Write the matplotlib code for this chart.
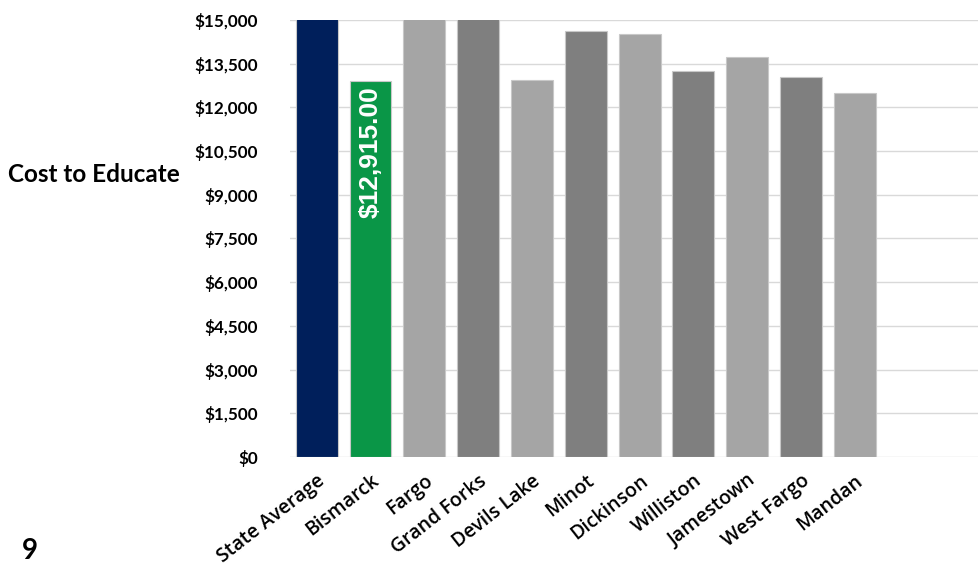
import matplotlib.pyplot as plt

# Cost to educate per district (values above $15,000 are cut off in the chart)
districts = ["State Average", "Bismarck", "Fargo", "Grand Forks", "Devils Lake",
             "Minot", "Dickinson", "Williston", "Jamestown", "West Fargo", "Mandan"]
costs = [15600, 12915, 16200, 16000, 12930, 14620, 14520, 13260, 13740, 13040, 12480]
colors = ["#001F5B", "#0A9647", "#A5A5A5", "#7F7F7F", "#A5A5A5", "#7F7F7F",
          "#A5A5A5", "#7F7F7F", "#A5A5A5", "#7F7F7F", "#A5A5A5"]
yticks = list(range(0, 15001, 1500))

fig = plt.figure(figsize=(9.79, 5.68), dpi=100)
ax = fig.add_axes([0.296, 0.1954, 0.73, 0.7695])

x = range(len(districts))
bars = ax.bar(x, costs, width=0.78, color=colors, edgecolor="#C8C8C8",
              linewidth=0.8, zorder=3)

ax.set_ylim(0, 15000)
ax.set_xlim(-0.5, 12.78)
ax.set_yticks(yticks)
ax.set_yticklabels([f"${v:,}" for v in yticks], fontsize=12.3,
                   fontweight="bold", family="Lato")
ax.set_xticks(list(x))
ax.set_xticklabels(districts, rotation=38, ha="right", rotation_mode="anchor",
                   fontsize=14, family="Open Sans", fontweight="semibold")
ax.tick_params(axis="both", length=0)
ax.tick_params(axis="y", pad=23)
ax.tick_params(axis="x", pad=10)
ax.grid(axis="y", color="#D9D9D9", linewidth=1, zorder=0)
for s in ax.spines.values():
    s.set_visible(False)

# Value label inside the Bismarck bar
ax.text(1, costs[1] - 200, f"${costs[1]:,.2f}", rotation=90, ha="center",
        va="top", color="white", fontsize=19, fontweight="bold",
        family="Liberation Sans", zorder=4)

fig.text(0.008, 0.692, "Cost to Educate", fontsize=17.5, fontweight="bold",
         family="Lato", va="center", ha="left")
fig.text(0.022, 0.03, "9", fontsize=20, fontweight="bold", family="Lato",
         va="center", ha="left")

fig.savefig("out.png", dpi=100)
